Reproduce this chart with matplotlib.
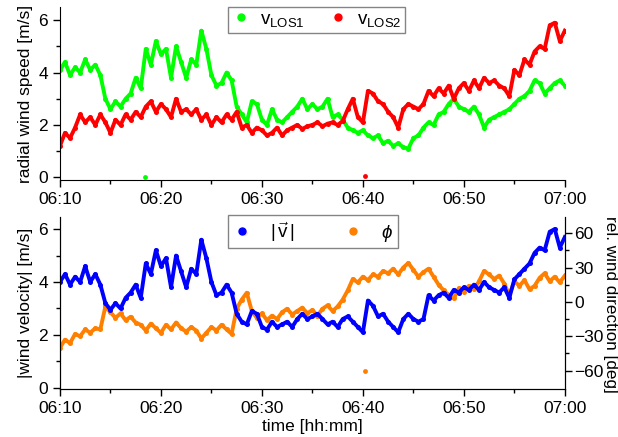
import numpy as np
import matplotlib
matplotlib.use('Agg')
import matplotlib.pyplot as plt
from matplotlib.lines import Line2D

plt.rcParams['font.family'] = ['Liberation Sans', 'DejaVu Sans']
plt.rcParams['mathtext.fontset'] = 'custom'
plt.rcParams['mathtext.rm'] = 'Liberation Sans'
plt.rcParams['mathtext.it'] = 'Liberation Sans:italic'

# time axis: minutes after 06:00, one sample every 30 s
t_min = np.arange(10, 60.25, 0.5)

v_los1 = [4.1, 4.4, 3.9, 4.2, 4.0, 4.5, 4.1, 4.3, 3.9, 3.0,
          2.6, 2.9, 2.7, 3.0, 3.2, 3.8, 3.4, 4.9, 4.3, 5.2,
          4.7, 4.9, 3.8, 5.0, 4.4, 3.8, 4.5, 4.3, 5.6, 4.9,
          3.9, 3.5, 3.6, 4.0, 3.7, 2.7, 2.4, 2.1, 2.9, 2.8,
          2.2, 2.0, 2.6, 2.2, 2.1, 2.3, 2.5, 2.7, 3.0, 2.6,
          2.8, 2.6, 2.7, 3.0, 2.3, 2.4, 2.2, 1.9, 1.8, 1.7,
          1.8, 1.6, 1.5, 1.6, 1.3, 1.4, 1.2, 1.3, 1.15, 1.1,
          1.5, 1.6, 1.9, 2.1, 2.0, 2.4, 2.5, 2.8, 3.0, 2.7,
          2.6, 2.5, 2.7, 2.4, 1.9, 2.2, 2.3, 2.4, 2.5, 2.6,
          2.8, 3.0, 3.1, 3.3, 3.7, 3.6, 3.2, 3.4, 3.6, 3.7,
          3.5]
v_los2 = [1.2, 1.7, 1.5, 1.9, 2.4, 2.1, 2.3, 2.0, 2.4, 2.1,
          1.7, 2.2, 2.0, 2.4, 2.2, 2.5, 2.3, 2.7, 2.9, 2.5,
          2.8, 2.6, 2.3, 3.0, 2.5, 2.6, 2.4, 2.6, 2.2, 2.4,
          2.0, 2.3, 2.1, 2.4, 2.2, 2.5, 1.9, 2.0, 1.7, 1.9,
          1.8, 1.6, 1.7, 1.9, 1.6, 1.8, 1.9, 2.0, 1.85, 1.95,
          2.0, 2.1, 1.95, 2.05, 2.1, 2.0, 2.15, 2.6, 3.0, 2.3,
          2.1, 3.3, 3.2, 2.9, 2.8, 2.5, 2.3, 1.9, 2.6, 2.8,
          2.7, 2.6, 2.8, 3.3, 3.1, 3.4, 3.2, 3.5, 3.0, 3.4,
          3.6, 3.3, 3.7, 3.4, 3.8, 3.6, 3.7, 3.5, 3.4, 3.1,
          4.1, 3.9, 4.5, 4.3, 4.8, 5.0, 4.9, 5.8, 5.9, 5.2,
          5.6]
v_abs = [4.0, 4.3, 3.9, 4.2, 4.0, 4.6, 4.0, 4.3, 3.9, 3.2,
         2.95, 3.2, 3.0, 3.4, 3.6, 3.9, 3.4, 4.7, 4.3, 5.2,
         4.6, 4.9, 3.8, 5.0, 4.4, 3.8, 4.5, 4.3, 5.6, 4.9,
         4.0, 3.5, 3.6, 3.9, 3.6, 2.8, 2.5, 2.4, 2.9, 2.8,
         2.3, 2.2, 2.5, 2.3, 2.4, 2.5, 2.3, 2.6, 2.8, 2.6,
         2.7, 2.8, 2.6, 2.4, 2.5, 2.3, 2.6, 2.7, 2.5, 2.3,
         2.1, 3.3, 3.1, 2.7, 2.8, 2.5, 2.3, 2.1, 2.6, 2.8,
         2.6, 2.5, 2.6, 3.5, 3.3, 3.5, 3.6, 3.4, 3.7, 3.6,
         3.8, 3.7, 3.9, 3.7, 4.0, 3.8, 3.7, 3.6, 3.8, 3.4,
         4.1, 4.3, 4.5, 4.7, 5.1, 5.3, 5.2, 5.9, 6.0, 5.3,
         5.7]
phi = [-40, -33, -36, -28, -30, -24, -27, -23, -24, -4,
       -9, -14, -10, -16, -13, -18, -20, -25, -19, -23,
       -27, -20, -24, -18, -23, -26, -22, -25, -32, -27,
       -22, -25, -20, -24, -28, -6, 2, 8, -8, -14,
       -10, -16, -12, -15, -9, -6, -11, -8, -5, -10,
       -7, -12, -6, -3, -8, -4, 2, 10, 20, 17,
       22, 19, 24, 22, 27, 25, 29, 24, 30, 34,
       28, 22, 26, 29, 22, 15, 10, 6, 3, 12,
       9, 14, 11, 18, 27, 24, 20, 23, 16, 6,
       18, 14, 19, 11, 14, 21, 25, 18, 22, 17,
       23]

# single outlying samples
los1_out_t, los1_out_v = [18.4], [0.0]
los2_out_t, los2_out_v = [40.2], [0.05]
phi_out_t, phi_out_v = [28.35, 40.2], [60, -60]

tick_pos = [10, 20, 30, 40, 50, 60]
tick_lab = ['06:10', '06:20', '06:30', '06:40', '06:50', '07:00']

c_green = '#00ff00'
c_red = '#ff0000'
c_blue = '#0000ff'
c_orange = '#ff8000'

fig = plt.figure(figsize=(6.18, 4.37), dpi=100)
ax1 = fig.add_axes([0.097, 0.588, 0.817, 0.396])
ax2 = fig.add_axes([0.097, 0.110, 0.817, 0.393])
ax3 = ax2.twinx()

kw = dict(marker='o', ms=3.6, lw=2.8, mew=0)
ax1.plot(t_min, v_los1, color=c_green, **kw)
ax1.plot(t_min, v_los2, color=c_red, **kw)
ax1.plot(los1_out_t, los1_out_v, 'o', color=c_green, ms=3.5, mew=0)
ax1.plot(los2_out_t, los2_out_v, 'o', color=c_red, ms=3.5, mew=0)

ax3.plot(t_min, phi, color=c_orange, **kw)
ax3.plot(phi_out_t, phi_out_v, 'o', color=c_orange, ms=3.5, mew=0)
ax2.plot(t_min, v_abs, color=c_blue, **kw)
ax2.set_zorder(ax3.get_zorder() + 1)
ax2.patch.set_visible(False)

for ax in (ax1, ax2, ax3):
    ax.set_xlim(10, 60)
    ax.set_xticks(tick_pos)
    ax.set_xticks([15, 25, 35, 45, 55], minor=True)
    ax.tick_params(which='both', direction='out', labelsize=12.5, width=1)
    ax.tick_params(which='major', length=5)
    ax.tick_params(which='minor', length=3)
    ax.spines['top'].set_visible(False)
ax1.spines['right'].set_visible(False)
ax1.set_xticklabels(tick_lab)
ax2.set_xticklabels(tick_lab)
ax3.tick_params(axis='y', pad=2)

ax1.set_ylim(-0.1, 6.5)
ax1.set_yticks([0, 2, 4, 6])
ax1.set_yticks([1, 3, 5], minor=True)
ax2.set_ylim(-0.04, 6.45)
ax2.set_yticks([0, 2, 4, 6])
ax2.set_yticks([1, 3, 5], minor=True)
ax3.set_ylim(-76, 74)
ax3.set_yticks([-60, -30, 0, 30, 60])
ax3.set_yticks([-45, -15, 15, 45], minor=True)

ax1.set_ylabel('radial wind speed [m/s]', fontsize=12.5, labelpad=4)
ax2.set_ylabel('|wind velocity| [m/s]', fontsize=12.5, labelpad=4)
fig.text(610.5 / 618, 1 - 304 / 437, 'rel. wind direction [deg]', fontsize=12.3,
         rotation=270, ha='center', va='center')
ax2.set_xlabel('time [hh:mm]', fontsize=12.5, labelpad=2)

h1 = [Line2D([], [], ls='none', marker='o', ms=5, color=c_green),
      Line2D([], [], ls='none', marker='o', ms=5, color=c_red)]
fig.legend(h1, [r'$\mathregular{v_{LOS1}}$', r'$\mathregular{v_{LOS2}}$'],
           loc='upper left', bbox_to_anchor=(228 / 618, 1 - 7 / 437), ncol=2,
           fontsize=13.5, frameon=True, fancybox=False, edgecolor='0.4',
           borderaxespad=0, handlelength=1.0, handletextpad=0.5, columnspacing=1.3,
           borderpad=0.2)
h2 = [Line2D([], [], ls='none', marker='o', ms=5, color=c_blue),
      Line2D([], [], ls='none', marker='o', ms=5, color=c_orange)]
fig.legend(h2, [r'$|\,\vec{\mathregular{v}}\,|$', r'$\phi$'],
           loc='upper left', bbox_to_anchor=(228 / 618, 1 - 215 / 437), ncol=2,
           fontsize=13.5, frameon=True, fancybox=False, edgecolor='0.4',
           borderaxespad=0, handlelength=1.0, handletextpad=1.0, columnspacing=2.6,
           borderpad=0.25)

fig.savefig('out.png', dpi=100)
